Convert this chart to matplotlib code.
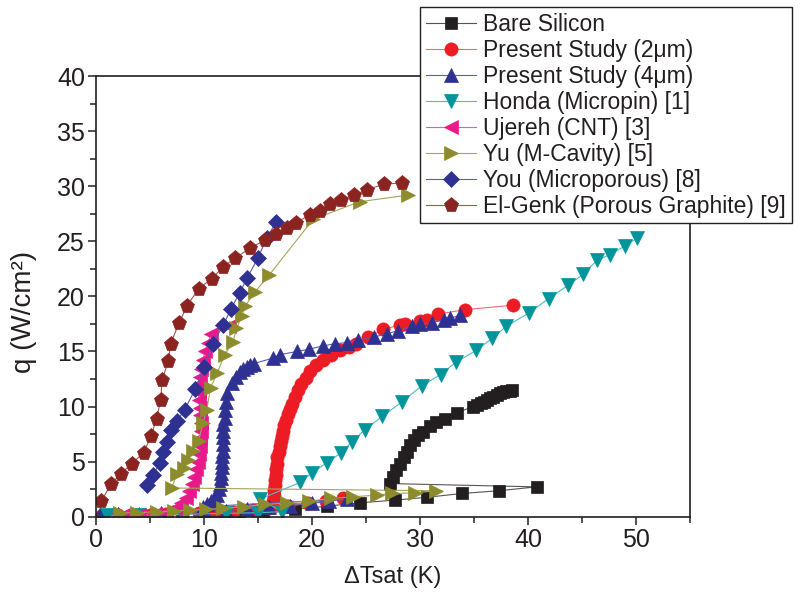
import matplotlib
matplotlib.use("Agg")
import matplotlib.pyplot as plt
from matplotlib.ticker import MultipleLocator

plt.rcParams["font.family"] = ["Liberation Sans", "DejaVu Sans"]

# Boiling curves: wall superheat (K) vs heat flux (W/cm2)
bare_x = [13.2, 15.5, 18.4, 21.4, 24.4, 27.7, 30.6, 33.9, 37.3, 40.8,
          27.2, 27.5, 27.8, 28.1, 28.5, 28.8, 29.1, 29.4, 29.8, 30.3, 30.9,
          31.5, 32.3, 33.4, 34.9, 35.3, 35.6, 35.9, 36.2, 36.5, 36.8, 37.1,
          37.4, 37.7, 38.0, 38.3, 38.5]
bare_y = [0.3, 0.45, 0.65, 0.95, 1.25, 1.5, 1.75, 2.1, 2.35, 2.7,
          3.0, 3.6, 4.2, 4.8, 5.4, 5.9, 6.5, 7.0, 7.4, 7.7, 8.2,
          8.6, 8.9, 9.4, 10.0, 10.15, 10.3, 10.45, 10.6, 10.75, 10.9, 11.05,
          11.2, 11.3, 11.4, 11.45, 11.5]

ps2_x = [0.5, 2.0, 3.5, 5.0, 6.5, 8.0, 9.5, 11.0, 12.7, 14.5, 16.0, 17.8,
         19.6, 21.3, 22.9,
         16.3, 16.4, 16.45, 16.5, 16.55, 16.6, 16.65, 16.7, 16.75, 16.8, 16.9,
         17.0, 17.1, 17.2, 17.3, 17.45, 17.6, 17.8, 18.0, 18.1, 18.4, 18.7,
         19.0, 19.4, 19.8, 20.4, 21.0, 21.8, 22.6, 23.4, 24.1, 25.2, 26.6,
         28.1, 28.6, 30.0, 30.6, 31.7, 34.2, 38.6]
ps2_y = [0.05, 0.1, 0.1, 0.15, 0.2, 0.2, 0.3, 0.35, 0.45, 0.6, 0.8, 1.0,
         1.2, 1.45, 1.7,
         0.9, 1.4, 1.9, 2.4, 2.9, 3.3, 3.8, 4.3, 4.8, 5.4, 5.9,
         6.4, 6.9, 7.3, 7.8, 8.3, 8.8, 9.3, 9.8, 10.2, 10.9, 11.5,
         12.0, 12.6, 13.2, 13.8, 14.2, 14.7, 15.1, 15.4, 15.7, 16.3, 17.0,
         17.4, 17.5, 17.8, 17.9, 18.4, 18.8, 19.2]

ps4_x = [0.4, 2.0, 4.0, 6.0, 8.0, 10.0, 12.0, 14.0, 16.0, 18.0, 20.0, 21.6,
         23.2,
         9.9, 10.3, 10.6, 10.9, 11.2, 11.4, 11.5, 11.6, 11.6, 11.7, 11.7, 11.7,
         11.8, 11.8, 11.8, 11.8, 11.8, 11.9, 11.9, 12.0, 12.1, 12.6, 13.0,
         13.3, 13.6, 14.0, 14.3, 14.6, 16.4, 17.0, 18.6, 19.7, 21.0, 22.1,
         23.2, 24.3, 25.7, 26.9, 28.0, 29.3, 30.0, 31.1, 32.2, 32.8, 33.7]
ps4_y = [0.2, 0.2, 0.25, 0.3, 0.35, 0.45, 0.55, 0.7, 0.85, 1.0, 1.2, 1.4,
         1.6,
         0.9, 1.1, 1.4, 1.7, 2.0, 2.5, 3.0, 3.5, 4.0, 4.5, 5.0, 5.5,
         6.0, 6.6, 7.2, 7.8, 8.4, 9.0, 9.7, 10.4, 11.2, 12.1, 12.7,
         13.1, 13.4, 13.6, 13.8, 13.9, 14.4, 14.7, 15.0, 15.2, 15.5, 15.7,
         15.8, 16.0, 16.3, 16.6, 16.9, 17.3, 17.5, 17.6, 17.9, 18.0, 18.3]

honda_x = [1.0, 4.0, 8.0, 12.0, 15.0, 17.2, 15.2, 18.9, 20.0, 21.4, 22.7,
           23.7, 24.9, 26.5, 28.3, 30.2, 31.9, 33.3, 35.2, 36.7, 38.0, 40.1,
           41.9, 43.7, 45.1, 46.4, 47.6, 49.0, 50.1]
honda_y = [0.1, 0.15, 0.2, 0.3, 0.35, 0.45, 1.6, 3.1, 4.0, 4.9, 5.8,
           6.8, 7.9, 9.1, 10.4, 11.9, 12.9, 14.0, 15.1, 16.2, 17.3, 18.5,
           19.8, 21.0, 22.0, 23.3, 23.8, 24.6, 25.3]

ujereh_x = [2.5, 4.0, 5.5, 6.5, 7.3, 7.9, 8.3, 8.6, 8.9, 9.1, 9.3, 9.4, 9.5,
            9.6, 9.6, 9.7, 9.7, 9.6, 9.6, 9.5, 9.5, 9.5, 9.6, 9.7, 9.9, 10.1,
            10.4, 10.6, 12.3]
ujereh_y = [0.1, 0.15, 0.25, 0.45, 0.8, 1.2, 1.7, 2.3, 3.0, 3.6, 4.3, 5.0, 5.7,
            6.4, 7.1, 7.8, 8.5, 9.2, 9.9, 10.6, 11.3, 12.0, 12.7, 13.4, 14.2, 15.0,
            15.8, 16.6, 17.3]

yu_x = [2.2, 3.8, 5.6, 7.2, 8.7, 10.2, 11.8, 13.7, 15.6, 17.7, 19.7, 21.8,
        23.8, 26.0, 27.4, 29.5, 31.5,
        7.0, 7.5, 8.1, 8.5, 9.0, 9.5, 9.9, 10.25, 10.6, 11.2, 11.9, 12.7,
        13.0, 13.5, 13.8, 14.7, 16.0, 20.1, 24.4, 28.9]
yu_y = [0.35, 0.35, 0.45, 0.5, 0.6, 0.65, 0.75, 0.9, 1.1, 1.25, 1.4, 1.65,
        1.8, 1.95, 2.1, 2.15, 2.35,
        2.6, 3.9, 4.4, 5.1, 6.0, 6.9, 8.5, 9.7, 11.7, 13.0, 14.7, 15.9,
        17.1, 18.2, 19.1, 20.4, 21.9, 27.0, 28.6, 29.2]

you_x = [4.75, 5.3, 5.9, 6.2, 6.6, 6.95, 7.5, 8.2, 9.2, 10.0, 10.8, 11.8,
         12.5, 13.3, 14.0, 15.0, 15.8, 16.7]
you_y = [2.9, 3.8, 4.9, 5.9, 6.8, 7.9, 8.7, 9.7, 11.6, 13.6, 15.7, 17.4,
         18.9, 20.3, 21.7, 23.5, 25.3, 26.8]

elgenk_x = [0.5, 1.4, 2.3, 3.3, 4.4, 5.1, 5.6, 6.0, 6.1, 6.7, 6.9, 7.7, 8.4,
            9.5, 10.7, 11.8, 12.9, 14.3, 15.6, 16.7, 17.7, 18.5, 19.8, 20.7,
            21.7, 22.7, 23.9, 25.1, 26.7, 28.3]
elgenk_y = [1.4, 3.0, 3.9, 4.8, 5.8, 7.3, 8.9, 10.6, 12.4, 14.1, 15.7, 17.6,
            19.1, 20.7, 21.6, 22.7, 23.5, 24.4, 25.1, 25.7, 26.2, 26.7, 27.4,
            27.8, 28.4, 28.8, 29.2, 29.7, 30.2, 30.3]

labels = ["Bare Silicon", "Present Study (2\u03bcm)", "Present Study (4\u03bcm)",
          "Honda (Micropin) [1]", "Ujereh (CNT) [3]", "Yu (M-Cavity) [5]",
          "You (Microporous) [8]", "El-Genk (Porous Graphite) [9]"]

fig = plt.figure(figsize=(8.03, 6.0), dpi=100)
ax = fig.add_axes([0.1196, 0.139, 0.7397, 0.734])

# (x, y, marker, marker colour, line colour, marker size)
series = [
    (bare_x, bare_y, "s", "#231f20", "#555555", 8.5),
    (ps2_x, ps2_y, "o", "#ed1c24", "#f26a6e", 9.5),
    (ps4_x, ps4_y, "^", "#2e3192", "#5a5db0", 9.5),
    (honda_x, honda_y, "v", "#00959a", "#4cbcc0", 9.5),
    (ujereh_x, ujereh_y, "<", "#e8198b", "#ef5aa8", 9.5),
    (yu_x, yu_y, ">", "#8c8c2d", "#a5a55a", 10),
    (you_x, you_y, "D", "#2e3192", "#5a5db0", 8),
    (elgenk_x, elgenk_y, "p", "#8b2320", "#a85550", 11),
]

for (x, y, m, mc, lc, ms), lab in zip(series, labels):
    ax.plot(x, y, color=lc, lw=0.8, marker=m, ms=ms, mfc=mc, mec=mc,
            mew=0.5, label=lab)

ax.set_xlim(0, 55)
ax.set_ylim(0, 40)
ax.xaxis.set_major_locator(MultipleLocator(10))
ax.xaxis.set_minor_locator(MultipleLocator(5))
ax.yaxis.set_major_locator(MultipleLocator(5))
ax.yaxis.set_minor_locator(MultipleLocator(2.5))
ax.tick_params(which="both", direction="out", labelsize=18, width=1.1,
               colors="#231f20", pad=2)
ax.tick_params(which="major", length=6)
ax.tick_params(which="minor", length=4)
for s in ax.spines.values():
    s.set_linewidth(1.2)
    s.set_color("#231f20")

ax.set_xlabel("\u0394Tsat (K)", fontsize=17, color="#231f20", labelpad=10)
ax.set_ylabel("q (W/cm\u00b2)", fontsize=20, color="#231f20")
ax.yaxis.set_label_coords(-0.1, 0.465)

leg = fig.legend(loc="upper left", bbox_to_anchor=(420 / 803, 1 - 7 / 600),
                 fontsize=16.5, frameon=True, fancybox=False, framealpha=1,
                 edgecolor="#231f20", handlelength=2.2, handletextpad=0.3,
                 labelspacing=0.13, borderpad=0.25, borderaxespad=0)
leg.get_frame().set_linewidth(1.0)
for t in leg.get_texts():
    t.set_color("#231f20")

fig.savefig("out.png", dpi=100)
